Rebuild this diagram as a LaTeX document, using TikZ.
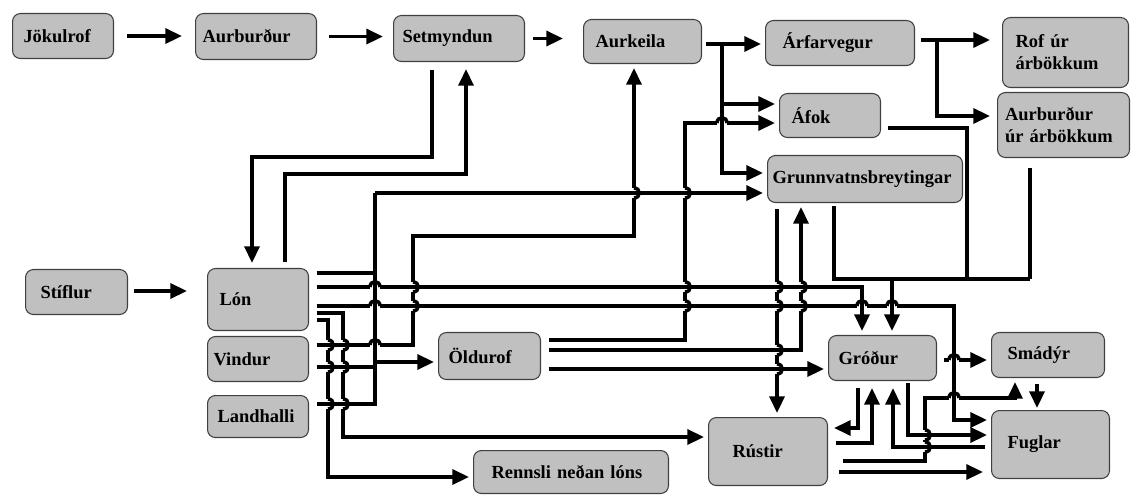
\documentclass[tikz,border=0pt]{standalone}
\usepackage{fontspec}
\setmainfont{Liberation Serif}
\usetikzlibrary{arrows.meta}
\definecolor{boxgray}{RGB}{192,192,192}

\begin{document}
\begin{tikzpicture}[x=0.02cm, y=-0.02cm,
    box/.style={draw=black!75, line width=0.6pt, fill=boxgray, rounded corners=4.5pt,
      anchor=north west, align=left, inner ysep=0pt,
      font=\bfseries\fontsize{10.5}{12.5}\selectfont},
    wire/.style={line width=2pt},
    arr/.style={wire, -{Triangle[length=9.5pt,width=8.5pt]}, shorten >=0.08cm},
    src/.style={shorten <=0.15cm}]
        \useasboundingbox (0,0) rectangle (1131,499);

        % --- 1. Boxes (top left corner in pixels) ---
        \node[box, minimum height=0.90cm, text width=1.58cm, inner xsep=0.22cm] (jokul) at (12,13) {Jökulrof};
        \node[box, minimum height=0.92cm, text width=2.14cm, inner xsep=0.14cm] (aurb) at (195,13) {Aurburður};
        \node[box, minimum height=0.92cm, text width=2.26cm, inner xsep=0.18cm] (setm) at (393,15) {Setmyndun};
        \node[box, minimum height=0.88cm, text width=1.88cm, inner xsep=0.24cm] (aurk) at (583,19) {Aurkeila};
        \node[box, minimum height=0.90cm, text width=2.30cm, inner xsep=0.34cm] (arfar) at (765,20) {Árfarvegur};
        \node[box, minimum height=1.40cm, text width=2.00cm, inner xsep=0.26cm] (rof) at (1002,17) {Rof úr\\árbökkum};
        \node[box, minimum height=0.88cm, text width=1.54cm, inner xsep=0.24cm] (afok) at (779,93) {Áfok};
        \node[box, minimum height=1.30cm, text width=2.34cm, inner xsep=0.15cm] (aurbur) at (997,92) {Aurburður\\úr árbökkum};
        \node[box, minimum height=0.94cm, text width=3.70cm, inner xsep=0.10cm] (grunn) at (767,155) {Grunnvatnsbreytingar};
        \node[box, minimum height=0.90cm, text width=1.44cm, inner xsep=0.30cm] (stifl) at (25,269) {Stíflur};
        \node[box, minimum height=1.24cm, text width=1.54cm, inner xsep=0.24cm] (lon) at (207,268) {Lón};
        \node[box, minimum height=0.90cm, text width=1.78cm, inner xsep=0.12cm] (vind) at (207,336) {Vindur};
        \node[box, minimum height=0.84cm, text width=1.62cm, inner xsep=0.20cm] (land) at (207,395) {Landhalli};
        \node[box, minimum height=0.94cm, text width=1.64cm, inner xsep=0.20cm] (oldur) at (438,332) {Öldurof};
        \node[box, minimum height=0.86cm, text width=3.18cm, inner xsep=0.36cm] (renn) at (473,450) {Rennsli neðan lóns};
        \node[box, minimum height=0.90cm, text width=1.76cm, inner xsep=0.20cm] (grod) at (828,335) {Gróður};
        \node[box, minimum height=0.90cm, text width=1.62cm, inner xsep=0.32cm] (smad) at (991,332) {Smádýr};
        \node[box, minimum height=1.36cm, text width=1.42cm, inner xsep=0.48cm] (rust) at (708,417) {Rústir};
        \node[box, minimum height=1.36cm, text width=1.72cm, inner xsep=0.32cm] (fugl) at (991,410) {Fuglar};

        % --- 2. Top row ---
        \draw[arr, shorten <=0.26cm, shorten >=0.26cm] (jokul.east) -- (jokul.east -| aurb.west);
        \draw[arr, shorten <=0.24cm, shorten >=0.20cm] (aurb.east) -- (aurb.east -| setm.west);
        \draw[arr, shorten <=0.16cm, shorten >=0.40cm] (setm.east) -- (setm.east -| aurk.west);

        % Aurkeila fan-out
        \coordinate (aurkJ) at (722,44);
        \draw[wire, shorten <=0.08cm] (aurk.east |- aurkJ) -- (aurkJ);
        \draw[arr] (aurkJ) -- (arfar.west |- aurkJ);
        \draw[arr] (aurkJ) |- (afok.west |- 0,104);
        \draw[arr] (aurkJ) |- (grunn.west |- 0,173);

        % Arfarvegur fan-out
        \coordinate (arfJ) at (937,40);
        \draw[wire, shorten <=0.12cm] (arfar.east |- arfJ) -- (arfJ);
        \draw[arr, shorten >=0.24cm] (arfJ) -- (rof.west |- arfJ);
        \draw[arr, shorten >=0.14cm] (arfJ) |- (aurbur.west |- 0,116);

        % --- 3. Setmyndun <-> Lon, Stiflur ---
        \draw[arr, shorten <=0.16cm, shorten >=0.10cm] (setm.south -| 432,0) |- (252,157) -- (lon.north -| 252,0);
        \draw[arr, shorten <=0.12cm, shorten >=0.14cm] (lon.north -| 285,0) |- (466,174) -- (setm.south -| 466,0);
        \draw[arr, shorten <=0.12cm, shorten >=0.40cm] (stifl.east |- 0,291) -- (lon.west |- 0,291);

        % --- 4. Left bus ---
        \coordinate (busTop) at (375,193);
        \coordinate (busBot) at (375,404);
        \draw[wire, src] (lon.east |- 0,273) -- (busTop |- 0,273);
        \draw[wire, src] (vind.east |- 0,367) -- (busTop |- 0,367);
        \draw[wire, src] (land.east |- busBot) -- (busBot) -- (busTop);
        \draw[arr] (busTop) -- (grunn.west |- busTop);
        \draw[arr] (busTop |- 0,362) -- (oldur.west |- 0,362);

        % Lon, Vindur outputs
        \draw[arr, src] (lon.east |- 0,287) -| (grod.north -| 862,0);
        \draw[arr, src] (lon.east |- 0,306) -| (954,420) -- (fugl.west |- 0,420);
        \draw[arr, src] (lon.east |- 0,313) -- (343,313) |- (rust.west |- 0,437);
        \draw[arr, src] (lon.east |- 0,320) -- (328,320) |- (renn.west |- 0,477);
        \draw[arr, src] (vind.east |- 0,345) -- (413,345) |- (634,236) -- (aurk.south -| 634,0);

        % --- 5. Oldurof, Grunnvatnsbreytingar ---
        \draw[arr, src] (oldur.east |- 0,340) -| (685,123) -- (afok.west |- 0,123);
        \draw[arr, src] (oldur.east |- 0,350) -| (grunn.south -| 801,0);
        \draw[arr, src] (oldur.east |- 0,369) -- (grod.west |- 0,369);
        \draw[arr, shorten <=0.12cm] (grunn.south -| 777,0) -- (rust.north -| 777,0);

        % collector into Grodur
        \coordinate (grodJ) at (892,279);
        \draw[wire, shorten <=0.06cm] (grunn.south -| 834,0) |- (1030,279);
        \draw[wire, shorten <=0.14cm] (afok.east |- 0,128) -| (967,279);
        \draw[wire, shorten <=0.20cm] (aurbur.south -| 1030,0) -- (1030,279);
        \draw[arr] (grodJ) -- (grod.north -| grodJ);

        % --- 6. Grodur, Rustir, Smadyr, Fuglar ---
        \draw[arr, shorten <=0.14cm] (grod.east |- 0,360) -- (smad.west |- 0,360);
        \draw[arr, shorten <=0.12cm, shorten >=0.04cm] (smad.south -| 1037,0) -- (fugl.north -| 1037,0);
        \draw[arr, shorten <=0.14cm, shorten >=0.12cm] (grod.south -| 858,0) |- (rust.east |- 0,428);
        \draw[arr, src, shorten >=0.14cm] (rust.east |- 0,443) -| (grod.south -| 872,0);
        \draw[arr, shorten <=0.12cm, shorten >=0.14cm] (fugl.west |- 0,447) -| (grod.south -| 893,0);
        \draw[arr, shorten <=0.04cm] (grod.south -| 908,0) |- (fugl.west |- 0,435);
        \draw[arr, shorten <=0.30cm] (rust.east |- 0,461) -| (925,398) -| (smad.south -| 1015,0);
        \draw[arr, shorten <=0.22cm, shorten >=0.16cm] (rust.east |- 0,472) -- (fugl.west |- 0,472);

        % --- 7. Line jumps ---
        % horizontal line jumps over a vertical one
        \foreach \hx/\hy in {375/287, 375/306, 375/345, 722/123, 862/306, 892/306, 954/360, 954/398} {
            \draw[white, line width=3.4pt] (\hx-5,\hy) -- (\hx+5,\hy);
            \draw[wire] (\hx,\hy-3.5) -- (\hx,\hy+3.5);
            \draw[wire] (\hx-5,\hy) .. controls (\hx-5,\hy-7) and (\hx+5,\hy-7) .. (\hx+5,\hy);
        }
        % vertical line jumps over a horizontal one
        \foreach \hx/\hy in {328/345, 328/367, 328/404, 343/345, 343/367, 343/404, 413/287, 413/306,
                             634/193, 685/193, 685/287, 685/306, 777/287, 777/306, 777/350, 777/369,
                             801/287, 801/306, 925/435, 925/447} {
            \draw[white, line width=3.4pt] (\hx,\hy-5) -- (\hx,\hy+5);
            \draw[wire] (\hx-3.5,\hy) -- (\hx+3.5,\hy);
            \draw[wire] (\hx,\hy-5) .. controls (\hx+7,\hy-5) and (\hx+7,\hy+5) .. (\hx,\hy+5);
        }
    \end{tikzpicture}
\end{document}
